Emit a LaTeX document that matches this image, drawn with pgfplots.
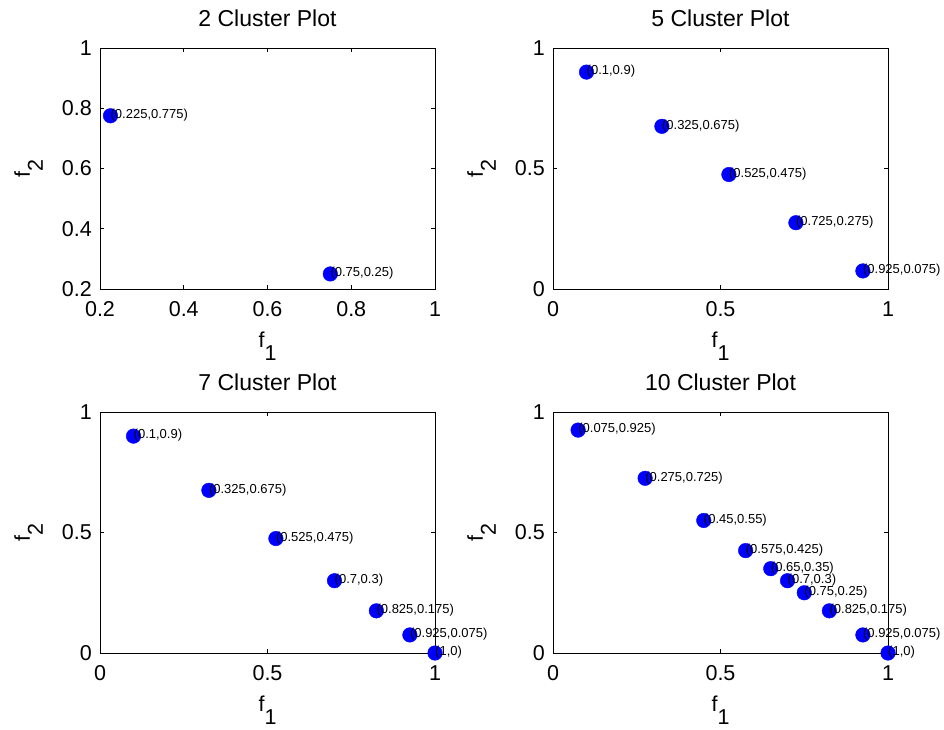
\documentclass[border=0pt]{standalone}
\usepackage{fontspec}
\setmainfont{Liberation Sans}
\usepackage{pgfplots}
\usepackage{pgfplotstable}
\pgfplotsset{compat=1.18}

\pgfplotstableread{
x y l
0.225 0.775 {(0.225,0.775)}
0.75 0.25 {(0.75,0.25)}
}\cA
\pgfplotstableread{
x y l
0.1 0.9 {(0.1,0.9)}
0.325 0.675 {(0.325,0.675)}
0.525 0.475 {(0.525,0.475)}
0.725 0.275 {(0.725,0.275)}
0.925 0.075 {(0.925,0.075)}
}\cB
\pgfplotstableread{
x y l
0.1 0.9 {(0.1,0.9)}
0.325 0.675 {(0.325,0.675)}
0.525 0.475 {(0.525,0.475)}
0.7 0.3 {(0.7,0.3)}
0.825 0.175 {(0.825,0.175)}
0.925 0.075 {(0.925,0.075)}
1 0 {(1,0)}
}\cC
\pgfplotstableread{
x y l
0.075 0.925 {(0.075,0.925)}
0.275 0.725 {(0.275,0.725)}
0.45 0.55 {(0.45,0.55)}
0.575 0.425 {(0.575,0.425)}
0.65 0.35 {(0.65,0.35)}
0.7 0.3 {(0.7,0.3)}
0.75 0.25 {(0.75,0.25)}
0.825 0.175 {(0.825,0.175)}
0.925 0.075 {(0.925,0.075)}
1 0 {(1,0)}
}\cD

\pgfplotsset{
  clusterax/.style={
    scale only axis, width=335pt, height=241pt,
    anchor=south west,
    clip=false,
    /pgf/number format/assume math mode=true,
    tick align=inside, major tick length=4pt,
    axis line style={line width=0.8pt, black},
    every tick/.style={black, line width=0.8pt},
    every tick label/.append style={font=\fontsize{21.5}{21.5}\selectfont},
    xticklabel style={inner sep=0pt, yshift=-12.5pt},
    yticklabel style={inner sep=0pt, xshift=-8pt},
    every axis title/.style={at={(axis description cs:0.5,1.0892)}, anchor=base, inner sep=0pt, font=\fontsize{23}{23}\selectfont},
    every axis x label/.style={at={(axis description cs:0.5,-0.2407)}, anchor=base, inner sep=0pt, font=\fontsize{21.5}{21.5}\selectfont},
    every axis y label/.style={at={(axis description cs:-0.209,0.5)}, rotate=90, anchor=base, inner sep=0pt, font=\fontsize{21.5}{21.5}\selectfont},
    xlabel={f\raisebox{-13pt}{1}},
    ylabel={f\raisebox{-13pt}{2}},
    xmax=1, ymax=1,
  },
  clusterpl/.style={
    only marks, mark=*, mark size=7.3pt, color=blue,
    mark options={fill=blue, draw=blue},
    nodes near coords, point meta=explicit symbolic,
    every node near coord/.append style={anchor=west, inner sep=0pt, yshift=0.5pt, text=black, font=\fontsize{13}{13}\selectfont},
  },
}

\begin{document}
\begin{tikzpicture}
\path[use as bounding box] (0,0) rectangle (944pt,729pt);
\begin{axis}[clusterax, at={(100pt,440pt)}, title={2 Cluster Plot},
  xmin=0.2, ymin=0.2, xtick={0.2,0.4,0.6,0.8,1}, ytick={0.2,0.4,0.6,0.8,1}]
\addplot[clusterpl] table[x=x, y=y, meta=l] {\cA};
\end{axis}
\begin{axis}[clusterax, at={(553pt,440pt)}, title={5 Cluster Plot},
  xmin=0, ymin=0, xtick={0,0.5,1}, ytick={0,0.5,1}]
\addplot[clusterpl] table[x=x, y=y, meta=l] {\cB};
\end{axis}
\begin{axis}[clusterax, at={(100pt,76pt)}, title={7 Cluster Plot},
  xmin=0, ymin=0, xtick={0,0.5,1}, ytick={0,0.5,1}]
\addplot[clusterpl] table[x=x, y=y, meta=l] {\cC};
\end{axis}
\begin{axis}[clusterax, at={(553pt,76pt)}, title={10 Cluster Plot},
  xmin=0, ymin=0, xtick={0,0.5,1}, ytick={0,0.5,1}]
\addplot[clusterpl] table[x=x, y=y, meta=l] {\cD};
\end{axis}
\end{tikzpicture}
\end{document}
